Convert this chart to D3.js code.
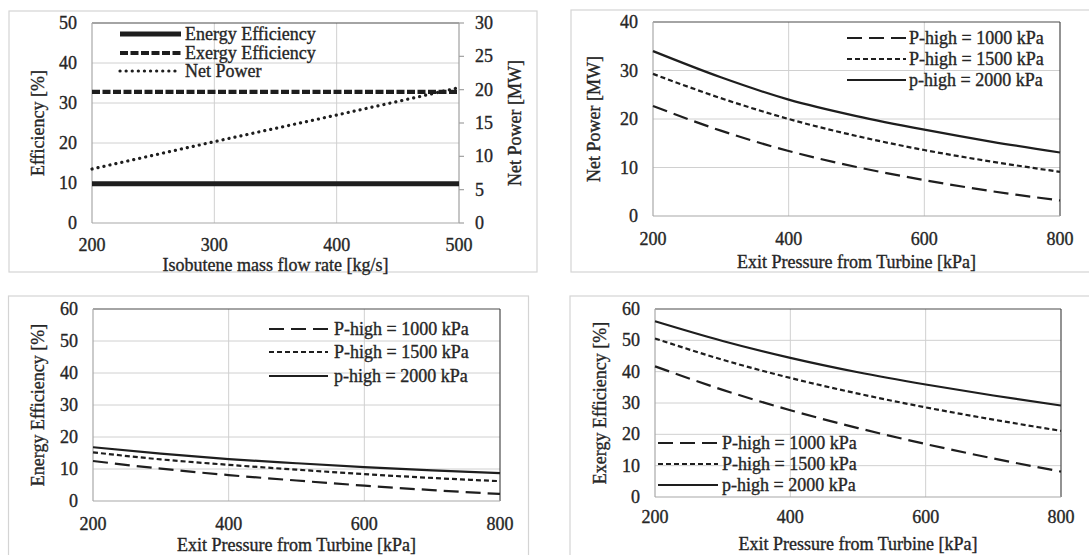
<!DOCTYPE html>
<html>
<head>
<meta charset="utf-8">
<script src="https://cdn.jsdelivr.net/npm/d3@7"></script>
<style>
  html, body { margin: 0; padding: 0; background: #fff; }
  svg { display: block; }
  text { font-family: "Liberation Serif", "Times New Roman", serif; fill: #262626; stroke: #262626; stroke-width: 0.35px; }
</style>
</head>
<body>
<svg id="chart" width="1089" height="555"></svg>
<script>
// ---- datos ----
const flowRate = [200, 300, 400, 500];
const energyEffFlow = [9.8, 9.8, 9.8, 9.8];
const exergyEffFlow = [32.8, 32.8, 32.8, 32.8];
const netPowerFlow = [8.1, 12.2, 16.2, 20.3];
const flowLegend = ['Energy Efficiency', 'Exergy Efficiency', 'Net Power'];

const exitPressure = [200, 300, 400, 500, 600, 700, 800];
const pressureLegend = ['P-high = 1000 kPa', 'P-high = 1500 kPa', 'p-high = 2000 kPa'];

const netPower1000 = [22.7, 17.6, 13.4, 10.1, 7.4, 5.1, 3.2];
const netPower1500 = [29.3, 24.3, 20.0, 16.5, 13.6, 11.2, 9.1];
const netPower2000 = [34.0, 28.6, 24.0, 20.6, 17.8, 15.3, 13.1];

const energyEff1000 = [12.5, 10.1, 8.1, 6.4, 4.8, 3.4, 2.2];
const energyEff1500 = [15.2, 13.0, 11.3, 9.8, 8.4, 7.2, 6.2];
const energyEff2000 = [16.8, 14.8, 13.1, 11.8, 10.6, 9.6, 8.7];

const exergyEff1000 = [41.7, 34.2, 27.7, 22.0, 16.9, 12.3, 8.1];
const exergyEff1500 = [50.6, 43.8, 38.0, 33.0, 28.6, 24.7, 21.1];
const exergyEff2000 = [56.1, 49.8, 44.4, 39.8, 35.9, 32.4, 29.2];

// ---- estilos de línea ----
const INK = '#1e1e1e';
const styles3 = [
  { dash: '15,7', w: 2.2 },
  { dash: '5,3', w: 2.2 },
  { dash: null, w: 2.2 }
];

const svg = d3.select('#chart');
const FS = 18;

function drawPanel(p) {
  const g = svg.append('g');
  // marco del gráfico
  g.append('rect').attr('x', p.frame[0]).attr('y', p.frame[1])
    .attr('width', p.frame[2]).attr('height', p.frame[3])
    .attr('fill', '#fff').attr('stroke', '#d4d4d4').attr('stroke-width', 1.2);

  const x = d3.scaleLinear().domain(p.xDomain).range([p.l, p.r]);
  const y = d3.scaleLinear().domain(p.yDomain).range([p.b, p.t]);

  // grilla
  const yt = d3.range(p.yDomain[0], p.yDomain[1] + 0.001, p.yStep);
  g.append('g').selectAll('line').data(yt.slice(1, -1)).join('line')
    .attr('x1', p.l).attr('x2', p.r).attr('y1', d => y(d)).attr('y2', d => y(d))
    .attr('stroke', '#d0d0d0').attr('stroke-width', 1);
  g.append('g').selectAll('line').data(p.xTicks.slice(1, -1)).join('line')
    .attr('y1', p.t).attr('y2', p.b).attr('x1', d => x(d)).attr('x2', d => x(d))
    .attr('stroke', '#d0d0d0').attr('stroke-width', 1);

  // borde del área
  g.append('line').attr('x1', p.l).attr('x2', p.r).attr('y1', p.t).attr('y2', p.t)
    .attr('stroke', '#4a4a4a').attr('stroke-width', 1.2);
  g.append('line').attr('x1', p.r).attr('x2', p.r).attr('y1', p.t).attr('y2', p.b)
    .attr('stroke', p.y2 ? '#a0a0a0' : '#4a4a4a').attr('stroke-width', 1.2);
  g.append('line').attr('x1', p.l).attr('x2', p.l).attr('y1', p.t).attr('y2', p.b)
    .attr('stroke', '#a8a8a8').attr('stroke-width', 1.2);
  g.append('line').attr('x1', p.l).attr('x2', p.r).attr('y1', p.b).attr('y2', p.b)
    .attr('stroke', '#a8a8a8').attr('stroke-width', 1.2);

  // ejes (etiquetas)
  g.append('g').selectAll('text').data(yt).join('text')
    .attr('x', p.l - 15).attr('y', d => y(d)).attr('text-anchor', 'end')
    .attr('dominant-baseline', 'central').style('font-size', FS + 'px')
    .text(d => d);
  g.append('g').selectAll('text').data(p.xTicks).join('text')
    .attr('x', d => x(d)).attr('y', p.xLabelY).attr('text-anchor', 'middle')
    .attr('dominant-baseline', 'central').style('font-size', FS + 'px')
    .text(d => d);

  g.append('text').attr('x', (p.l + p.r) / 2).attr('y', p.xTitleY)
    .attr('text-anchor', 'middle').attr('dominant-baseline', 'central')
    .style('font-size', FS + 'px').text(p.xTitle);
  g.append('text').attr('transform', `translate(${p.yTitleX},${(p.t + p.b) / 2}) rotate(-90)`)
    .attr('text-anchor', 'middle').attr('dominant-baseline', 'central')
    .style('font-size', FS + 'px').text(p.yTitle);

  let y2 = null;
  if (p.y2) {
    y2 = d3.scaleLinear().domain(p.y2.domain).range([p.b, p.t]);
    const t2 = d3.range(p.y2.domain[0], p.y2.domain[1] + 0.001, p.y2.step);
    g.append('g').selectAll('line').data(t2).join('line')
      .attr('x1', p.r).attr('x2', p.r + 5).attr('y1', d => y2(d)).attr('y2', d => y2(d))
      .attr('stroke', '#a0a0a0').attr('stroke-width', 1.2);
    g.append('g').selectAll('text').data(t2).join('text')
      .attr('x', p.r + 16).attr('y', d => y2(d)).attr('text-anchor', 'start')
      .attr('dominant-baseline', 'central').style('font-size', FS + 'px')
      .text(d => d);
    g.append('text').attr('transform', `translate(${p.y2.titleX},${(p.t + p.b) / 2}) rotate(-90)`)
      .attr('text-anchor', 'middle').attr('dominant-baseline', 'central')
      .style('font-size', FS + 'px').text(p.y2.title);
  }

  // series
  p.series.forEach(s => {
    const sc = s.axis === 2 ? y2 : y;
    const line = d3.line().x((d, i) => x(p.xs[i])).y(d => sc(d)).curve(d3.curveMonotoneX);
    g.append('path').datum(s.values).attr('d', line)
      .attr('fill', 'none').attr('stroke', INK).attr('stroke-width', s.w)
      .attr('stroke-dasharray', s.dash).attr('stroke-linecap', s.cap || 'butt');
  });

  // leyenda
  p.series.forEach((s, i) => {
    const yy = p.legend.rows[i];
    g.append('line').attr('x1', p.legend.x1).attr('x2', p.legend.x2)
      .attr('y1', yy).attr('y2', yy).attr('stroke', INK).attr('stroke-width', s.w)
      .attr('stroke-dasharray', s.dash).attr('stroke-linecap', s.cap || 'butt');
    g.append('text').attr('x', p.legend.tx).attr('y', yy)
      .attr('dominant-baseline', 'central').style('font-size', FS + 'px')
      .text(s.name);
  });
}

const xTicksP = [200, 400, 600, 800];
function pressureSeries(a, b, c) {
  return [a, b, c].map((v, i) => ({ values: v, name: pressureLegend[i], dash: styles3[i].dash, w: styles3[i].w }));
}

drawPanel({
  frame: [9, 11, 528, 261], l: 92, r: 459, t: 23, b: 223,
  xDomain: [200, 500], xTicks: flowRate, yDomain: [0, 50], yStep: 10,
  xs: flowRate, xLabelY: 245, xTitleY: 265, yTitleX: 38,
  xTitle: 'Isobutene mass flow rate [kg/s]', yTitle: 'Efficiency [%]',
  y2: { domain: [0, 30], step: 5, titleX: 515, title: 'Net Power [MW]' },
  series: [
    { values: energyEffFlow, name: flowLegend[0], dash: null, w: 5 },
    { values: exergyEffFlow, name: flowLegend[1], dash: '8,2.5', w: 4.2 },
    { values: netPowerFlow, name: flowLegend[2], dash: '0.1,6', w: 3.2, cap: 'round', axis: 2 }
  ],
  legend: { x1: 120, x2: 181, tx: 185, rows: [34, 53, 71] }
});

drawPanel({
  frame: [571, 10, 530, 262], l: 653, r: 1060, t: 22, b: 216,
  xDomain: [200, 800], xTicks: xTicksP, yDomain: [0, 40], yStep: 10,
  xs: exitPressure, xLabelY: 239, xTitleY: 262, yTitleX: 594,
  xTitle: 'Exit Pressure from Turbine [kPa]', yTitle: 'Net Power [MW]',
  series: pressureSeries(netPower1000, netPower1500, netPower2000),
  legend: { x1: 847, x2: 906, tx: 909, rows: [38, 59, 80] }
});

drawPanel({
  frame: [8.5, 296, 520, 270], l: 93, r: 500, t: 309, b: 501,
  xDomain: [200, 800], xTicks: xTicksP, yDomain: [0, 60], yStep: 10,
  xs: exitPressure, xLabelY: 524, xTitleY: 545, yTitleX: 38,
  xTitle: 'Exit Pressure from Turbine [kPa]', yTitle: 'Energy Efficiency [%]',
  series: pressureSeries(energyEff1000, energyEff1500, energyEff2000),
  legend: { x1: 269, x2: 328, tx: 334, rows: [329, 352, 376] }
});

drawPanel({
  frame: [570, 296, 530, 270], l: 655, r: 1061, t: 309, b: 497,
  xDomain: [200, 800], xTicks: xTicksP, yDomain: [0, 60], yStep: 10,
  xs: exitPressure, xLabelY: 517, xTitleY: 544, yTitleX: 600,
  xTitle: 'Exit Pressure from Turbine [kPa]', yTitle: 'Exergy Efficiency [%]',
  series: pressureSeries(exergyEff1000, exergyEff1500, exergyEff2000),
  legend: { x1: 658, x2: 718, tx: 722, rows: [443, 464, 485] }
});
</script>
</body>
</html>
